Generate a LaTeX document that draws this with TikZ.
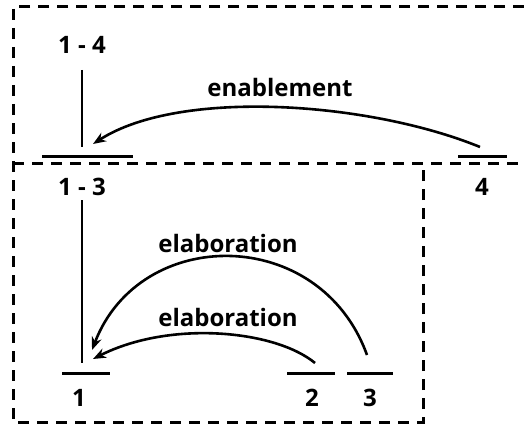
\documentclass[tikz,border=0pt]{standalone}
\usepackage{fontspec}
\setmainfont{Open Sans}
\usetikzlibrary{arrows.meta}
\tikzset{
  >={Stealth[length=13pt,width=10pt]},
  span label/.style={font=\bfseries\fontsize{24}{28}\selectfont,inner sep=0pt},
  relation/.style={->,line width=2.6pt},
  stem/.style={line width=2.8pt},
  bar/.style={rectangle,fill=black,inner sep=0pt,minimum height=3pt,minimum width=#1},
  frame/.style={line width=3pt,dash pattern=on 11pt off 8pt}
}

\begin{document}
\begin{tikzpicture}[x=1pt,y=-1pt]
  \useasboundingbox (0,0) rectangle (524,425);

  % dashed frames
  \draw[frame] (524,7) -| (13,422) -| (423,163);
  \draw[frame] (13,163) -- (524,163);

  % segments
  \node[bar=91pt] (bar13) at (87.5,156) {};
  \node[bar=49pt] (bar4) at (482,156) {};
  \node[bar=48pt] (bar1) at (86,373) {};
  \node[bar=48pt] (bar2) at (311,373) {};
  \node[bar=46pt] (bar3) at (370,373) {};

  % labels
  \node[span label] (l14) at (82,45) {1 - 4};
  \node[span label] (l13) at (82,187) {1 - 3};
  \node[span label] (l1) at (79,398) {1};
  \node[span label] (l2) at (312,398) {2};
  \node[span label] (l3) at (370,398) {3};
  \node[span label] (l4) at (482,187) {4};

  % stems
  \coordinate (s14a) at (82,70);
  \coordinate (s14b) at (82,147);
  \coordinate (s13a) at (82,200);
  \coordinate (s13b) at (82,363);
  \draw[stem] (s14a) -- (s14b);
  \draw[stem] (s13a) -- (s13b);

  % relations
  \coordinate (from4) at (480,147);
  \coordinate (to13) at (93,144);
  \coordinate (from3) at (367,355);
  \coordinate (to1a) at (92,350);
  \coordinate (from2) at (315,363);
  \coordinate (to1b) at (93,359);

  \draw[relation] (from4) .. controls (370,102) and (180,88) .. (to13);
  \draw[relation] (from3) .. controls (320,225) and (140,225) .. (to1a);
  \draw[relation] (from2) .. controls (275,330) and (170,320) .. (to1b);

  \node[span label] (enab) at (280,87) {enablement};
  \node[span label] (elab1) at (228,243) {elaboration};
  \node[span label] (elab2) at (228,317) {elaboration};
\end{tikzpicture}
\end{document}
